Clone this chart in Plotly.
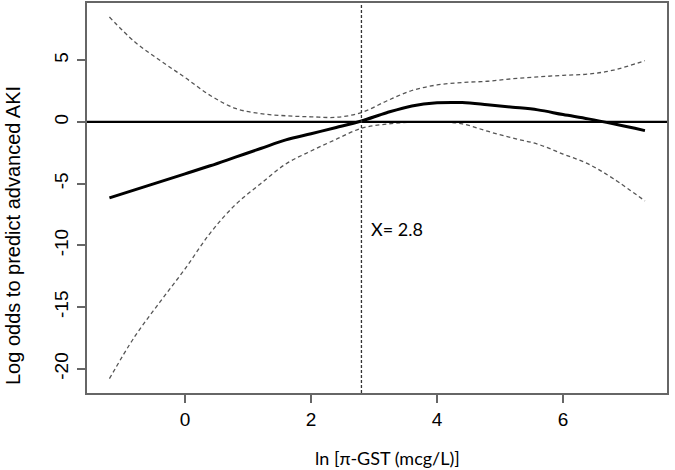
import plotly.graph_objects as go

x_vals = [-1.2, -0.8, -0.4, 0.0, 0.4, 0.8, 1.2, 1.6, 2.0, 2.4, 2.8, 3.2, 3.6, 4.0,
          4.4, 4.8, 5.2, 5.6, 6.0, 6.4, 6.8, 7.3]
log_odds = [-6.15, -5.5, -4.85, -4.2, -3.55, -2.85, -2.15, -1.45, -0.95, -0.45, 0.08,
            0.75, 1.3, 1.55, 1.57, 1.4, 1.2, 0.98, 0.6, 0.25, -0.15, -0.7]
upper_ci = [8.5, 6.5, 5.0, 3.6, 2.15, 1.1, 0.68, 0.5, 0.42, 0.38, 0.76, 1.7, 2.55,
            3.0, 3.2, 3.3, 3.5, 3.65, 3.78, 3.88, 4.2, 4.97]
lower_ci = [-20.8, -17.4, -14.6, -11.9, -9.0, -6.7, -5.0, -3.4, -2.35, -1.4, -0.51,
            -0.17, -0.02, 0.0, -0.15, -0.75, -1.3, -1.8, -2.6, -3.4, -4.6, -6.4]
cutoff_x = 2.8
x_ticks = [0, 2, 4, 6]
y_ticks = [-20, -15, -10, -5, 0, 5]
y_tick_labels = ["-20", "-15", "-10", "-5", "0", "5"]

fig = go.Figure()

fig.add_trace(go.Scatter(x=x_vals, y=upper_ci, mode="lines",
                         line=dict(color="#555555", width=1.3, dash="4px,3px", shape="spline"),
                         showlegend=False, hoverinfo="skip"))
fig.add_trace(go.Scatter(x=x_vals, y=lower_ci, mode="lines",
                         line=dict(color="#555555", width=1.3, dash="4px,3px", shape="spline"),
                         showlegend=False, hoverinfo="skip"))

fig.add_hline(y=0, line=dict(color="black", width=2.2))
fig.add_vline(x=cutoff_x, line=dict(color="#333333", width=1.3, dash="3px,2px"))

fig.add_trace(go.Scatter(x=x_vals, y=log_odds, mode="lines",
                         line=dict(color="black", width=3, shape="spline"),
                         showlegend=False))

fig.add_annotation(x=cutoff_x, y=-8.7, xref="x", yref="y", text="X= " + str(cutoff_x),
                   showarrow=False, xanchor="left", xshift=8,
                   font=dict(family="Lato, Open Sans, sans-serif", size=18, color="black"))

fig.add_annotation(x=(387 - 87) / 580, y=-(458 - 393) / 390, xref="paper", yref="paper",
                   text="ln [π-GST (mcg/L)]", showarrow=False,
                   xanchor="center", yanchor="middle",
                   font=dict(family="Lato, Open Sans, sans-serif", size=18, color="black"))

fig.add_annotation(x=-(87 - 13) / 580, y=(393 - 236) / 390, xref="paper", yref="paper",
                   text="Log odds to predict advanced AKI", showarrow=False, textangle=-90,
                   xanchor="center", yanchor="middle",
                   font=dict(family="Liberation Sans, Arial, sans-serif", size=20, color="black"))

axis_common = dict(showgrid=False, zeroline=False, showline=True, mirror=True,
                   linecolor="#666666", linewidth=1.5, ticks="outside", ticklen=8,
                   tickcolor="#666666", tickwidth=1.5, automargin=False,
                   tickfont=dict(family="Liberation Sans, Arial, sans-serif", size=19, color="black"))

fig.update_xaxes(range=[-1.556, 7.65], tickvals=x_ticks, **axis_common)
fig.update_yaxes(range=[-21.96, 9.64], tickvals=y_ticks, ticktext=y_tick_labels,
                 tickangle=-90, ticklabelstandoff=2, **axis_common)

fig.update_layout(width=675, height=470, margin=dict(l=87, r=8, t=3, b=77, autoexpand=False),
                  plot_bgcolor="white", paper_bgcolor="white")

fig.write_html("out.html", config={"displayModeBar": False},
               post_script="document.body.style.margin='0px';")
